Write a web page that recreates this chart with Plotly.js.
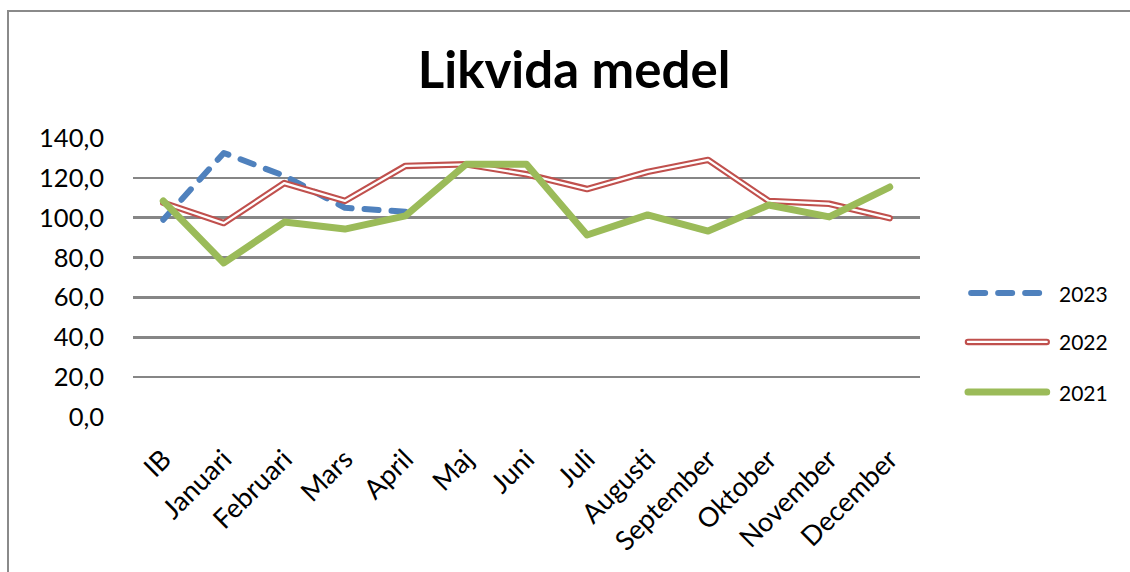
<!DOCTYPE html>
<html>
<head>
<meta charset="utf-8">
<script src="https://cdn.plot.ly/plotly-3.0.1.min.js"></script>
<style>
html, body { margin: 0; padding: 0; background: #fff; overflow: hidden; }
#wrap { position: relative; width: 1130px; height: 572px; overflow: hidden; }
#chart { width: 1130px; height: 572px; }
#frame { position: absolute; left: 7px; top: 10px; width: 1200px; height: 700px;
  border-top: 2.5px solid #8a8a8a; border-left: 2.5px solid #8a8a8a; pointer-events: none; }
.scatterlayer .js-line, .shapelayer path { stroke-linecap: round; stroke-linejoin: round; }
</style>
</head>
<body>
<div id="wrap"><div id="chart"></div><div id="frame"></div></div>
<script>
const categories = ["IB", "Januari", "Februari", "Mars", "April", "Maj", "Juni", "Juli", "Augusti", "September", "Oktober", "November", "December"];
const seriesNames = ["2023", "2022", "2021"];
const values2023 = [99, 132.5, 121, 105, 103];
const values2022 = [107.5, 97.3, 117.4, 108.4, 126, 126.8, 121.8, 114.4, 123, 129, 108.4, 107, 99.8];
const values2021 = [108.4, 77.3, 97.8, 94.3, 100.9, 126.8, 126.8, 91.3, 101.4, 93.3, 106.4, 100.4, 115.4];
const yTicks = [0, 20, 40, 60, 80, 100, 120, 140];

const BLUE = "#4F81BD", RED = "#C0504D", GREEN = "#9BBB59";
const FONT = "Lato, 'Open Sans', sans-serif";

const traces = [
  { x: categories.slice(0, values2023.length), y: values2023, type: "scatter", mode: "lines",
    name: seriesNames[0], line: { color: BLUE, width: 6, dash: "14px,13px" }, hoverinfo: "skip" },
  { x: categories, y: values2022, type: "scatter", mode: "lines",
    name: seriesNames[1], line: { color: RED, width: 6.5 }, hoverinfo: "skip" },
  { x: categories, y: values2022, type: "scatter", mode: "lines",
    name: seriesNames[1] + " inner", line: { color: "#ffffff", width: 2.3 }, hoverinfo: "skip" },
  { x: categories, y: values2021, type: "scatter", mode: "lines",
    name: seriesNames[2], line: { color: GREEN, width: 7 }, hoverinfo: "skip" }
];

// legend (drawn as decoration, paper coordinates)
const lx0 = 1.061, lx1 = 1.161, ltx = 1.174;
const ly = [0.444, 0.269, 0.0896];
const shapes = [
  { type: "line", xref: "paper", yref: "paper", x0: lx0 + 0.004, x1: lx1, y0: ly[0], y1: ly[0], line: { color: BLUE, width: 6, dash: "14px,13px" } },
  { type: "line", xref: "paper", yref: "paper", x0: lx0, x1: lx1, y0: ly[1], y1: ly[1], line: { color: RED, width: 6.5 } },
  { type: "line", xref: "paper", yref: "paper", x0: lx0, x1: lx1, y0: ly[1], y1: ly[1], line: { color: "#ffffff", width: 2.3 } },
  { type: "line", xref: "paper", yref: "paper", x0: lx0, x1: lx1, y0: ly[2], y1: ly[2], line: { color: GREEN, width: 7 } }
];
const annotations = seriesNames.map((n, i) => ({
  xref: "paper", yref: "paper", x: ltx, y: ly[i], xanchor: "left", yanchor: "middle",
  text: n, showarrow: false, font: { family: FONT, size: 21, color: "#000" }
}));

const layout = {
  width: 1130, height: 572,
  margin: { l: 133, r: 210, t: 138, b: 155, pad: 0 },
  paper_bgcolor: "#ffffff", plot_bgcolor: "#ffffff",
  showlegend: false,
  title: { text: "<b>Likvida medel</b>", x: 0.508, xref: "container", xanchor: "center",
    y: 1 - 70 / 572, yref: "container", yanchor: "middle",
    font: { family: FONT, size: 51, color: "#000" } },
  xaxis: { type: "category", categoryarray: categories, range: [-0.5, 12.5],
    showgrid: false, zeroline: false, showline: false, ticks: "",
    tickangle: -45, ticklabelstandoff: 20,
    tickfont: { family: FONT, size: 27, color: "#000" } },
  yaxis: { range: [0, 140], tickvals: yTicks,
    ticktext: yTicks.map(v => v.toFixed(1).replace(".", ",")),
    showgrid: true, gridcolor: "#868686", gridwidth: 2.5, zeroline: false, showline: false,
    ticks: "", ticklabelstandoff: 28,
    tickfont: { family: FONT, size: 25.5, color: "#000" } },
  shapes: shapes, annotations: annotations
};

Plotly.newPlot("chart", traces, layout, { staticPlot: true, displayModeBar: false });
</script>
</body>
</html>
